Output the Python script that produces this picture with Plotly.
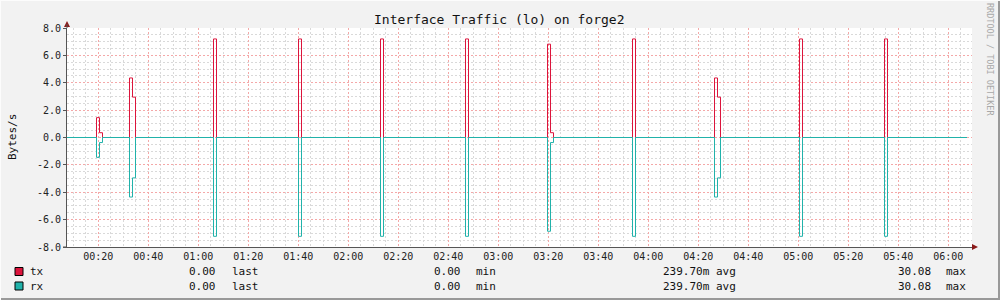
import plotly.graph_objects as go

# ---------------- data ----------------
title_text = "Interface Traffic (lo) on forge2"
y_label = "Bytes/s"
watermark = "RRDTOOL / TOBI OETIKER"

# time axis in minutes after 00:00
t_start = 7.48
t_end = 367.48
t_axis_end = 369.48
step_min = 1.2

x_tick_minutes = [20, 40, 60, 80, 100, 120, 140, 160, 180, 200, 220, 240, 260, 280, 300, 320, 340, 360]
x_tick_labels = ["00:20", "00:40", "01:00", "01:20", "01:40", "02:00", "02:20", "02:40", "03:00",
                 "03:20", "03:40", "04:00", "04:20", "04:40", "05:00", "05:20", "05:40", "06:00"]
y_tick_values = [-8, -6, -4, -2, 0, 2, 4, 6, 8]
y_tick_labels = ["-8.0", "-6.0", "-4.0", "-2.0", "0.0", "2.0", "4.0", "6.0", "8.0"]

spike_start_min = [19.28, 32.48, 66.08, 100.08, 132.88, 166.88, 199.68, 233.68, 266.48, 300.48, 334.48]
tx_spike_values = [[1.45, 0.35], [4.35, 2.95], [7.2], [7.2], [7.2], [7.2], [6.82, 0.35], [7.2], [4.35, 2.95], [7.2], [7.2]]
rx_spike_values = [[-1.45, -0.37], [-4.35, -2.95], [-7.22], [-7.22], [-7.22], [-7.22], [-6.85, -0.37], [-7.22], [-4.35, -2.95], [-7.22], [-7.22]]

series_names = ["tx", "rx"]
series_colors = ["#DC143C", "#20B2AA"]
stat_last = ["0.00", "0.00"]
stat_min = ["0.00", "0.00"]
stat_avg = ["239.70m", "239.70m"]
stat_max = ["30.08", "30.08"]

# ---------------- layout geometry ----------------
W, H = 1000, 300
L, R, T, B = 67, 972, 28, 247
FONT = "DejaVu Sans Mono"


def px(x):
    return (x - L) / (R - L)


def py(y):
    return (B - y) / (B - T)


def build_step(starts, values):
    xs, ys = [t_start], [0.0]
    for s, vals in zip(starts, values):
        for i, v in enumerate(vals):
            xs.append(s + i * step_min)
            ys.append(v)
        xs.append(s + len(vals) * step_min)
        ys.append(0.0)
    xs.append(t_end)
    ys.append(0.0)
    return xs, ys


fig = go.Figure()
for name, color, vals in zip(series_names, series_colors, [tx_spike_values, rx_spike_values]):
    xs, ys = build_step(spike_start_min, vals)
    fig.add_trace(go.Scatter(x=xs, y=ys, mode="lines", line=dict(color=color, width=1, shape="hv"),
                             name=name, showlegend=False, hoverinfo="skip"))

grid_dash = "2px,2px"
fig.update_layout(
    width=W, height=H,
    margin=dict(l=L, r=W - R, t=T, b=H - B, pad=0, autoexpand=False),
    paper_bgcolor="#F2F2F2",
    plot_bgcolor="#FFFFFF",
    font=dict(family=FONT, size=10, color="#222222"),
    xaxis=dict(
        range=[t_start, t_axis_end],
        tickmode="array", tickvals=x_tick_minutes, ticktext=x_tick_labels,
        showgrid=True, gridcolor="#F4A8A8", griddash=grid_dash, gridwidth=1,
        showline=True, linecolor="#555555", linewidth=1,
        ticks="", zeroline=False,
        tickfont=dict(family=FONT, size=10, color="#222222"),
        minor=dict(tickmode="linear", tick0=0, dtick=5, showgrid=True,
                   gridcolor="#D9D9D9", griddash=grid_dash, gridwidth=1, ticks=""),
        fixedrange=True,
    ),
    yaxis=dict(
        range=[-8, 8],
        tickmode="array", tickvals=y_tick_values, ticktext=y_tick_labels,
        showgrid=True, gridcolor="#F4A8A8", griddash=grid_dash, gridwidth=1,
        showline=True, linecolor="#555555", linewidth=1,
        ticks="outside", ticklen=3, tickcolor="#555555",
        zeroline=False,
        tickfont=dict(family=FONT, size=10, color="#222222"),
        minor=dict(tickmode="linear", tick0=0, dtick=0.5, showgrid=True,
                   gridcolor="#D9D9D9", griddash=grid_dash, gridwidth=1, ticks=""),
        fixedrange=True,
    ),
)

ann = []
# title
ann.append(dict(text=title_text, x=px(499), y=py(19), xref="paper", yref="paper",
                xanchor="center", yanchor="middle", showarrow=False,
                font=dict(family=FONT, size=13, color="#111111")))
# y label
ann.append(dict(text=y_label, x=px(12), y=py(137), xref="paper", yref="paper",
                xanchor="center", yanchor="middle", showarrow=False, textangle=-90,
                font=dict(family=FONT, size=11, color="#111111")))
# watermark
ann.append(dict(text=watermark, x=px(990), y=py(60), xref="paper", yref="paper",
                xanchor="center", yanchor="middle", showarrow=False, textangle=90,
                font=dict(family=FONT, size=8.5, color="#A8A8A8")))

shapes = []
row_y = [271.5, 286]
for i, name in enumerate(series_names):
    yc = row_y[i]
    shapes.append(dict(type="rect", xref="paper", yref="paper",
                       x0=px(15), x1=px(23), y0=py(yc - 4), y1=py(yc + 4),
                       fillcolor=series_colors[i], line=dict(color="#000000", width=1)))
    f = dict(family=FONT, size=11, color="#111111")
    ann.append(dict(text=name, x=px(28), y=py(yc), xref="paper", yref="paper",
                    xanchor="left", yanchor="middle", showarrow=False, font=f))
    ann.append(dict(text=stat_last[i], x=px(218), y=py(yc), xref="paper", yref="paper",
                    xanchor="right", yanchor="middle", showarrow=False, font=f))
    ann.append(dict(text="last", x=px(230), y=py(yc), xref="paper", yref="paper",
                    xanchor="left", yanchor="middle", showarrow=False, font=f))
    ann.append(dict(text=stat_min[i], x=px(463), y=py(yc), xref="paper", yref="paper",
                    xanchor="right", yanchor="middle", showarrow=False, font=f))
    ann.append(dict(text="min", x=px(474), y=py(yc), xref="paper", yref="paper",
                    xanchor="left", yanchor="middle", showarrow=False, font=f))
    ann.append(dict(text=stat_avg[i] + " avg", x=px(661), y=py(yc), xref="paper", yref="paper",
                    xanchor="left", yanchor="middle", showarrow=False, font=f))
    ann.append(dict(text=stat_max[i], x=px(933), y=py(yc), xref="paper", yref="paper",
                    xanchor="right", yanchor="middle", showarrow=False, font=f))
    ann.append(dict(text="max", x=px(944), y=py(yc), xref="paper", yref="paper",
                    xanchor="left", yanchor="middle", showarrow=False, font=f))

# axis arrows
arrow_col = "#8B1A1A"
shapes.append(dict(type="path", xref="paper", yref="paper",
                   path=f"M {px(64)} {py(27)} L {px(70)} {py(27)} L {px(67)} {py(21)} Z",
                   fillcolor=arrow_col, line=dict(color=arrow_col, width=0)))
shapes.append(dict(type="path", xref="paper", yref="paper",
                   path=f"M {px(972)} {py(244)} L {px(972)} {py(250)} L {px(978)} {py(247)} Z",
                   fillcolor=arrow_col, line=dict(color=arrow_col, width=0)))
# y axis extension to arrow
shapes.append(dict(type="line", xref="paper", yref="paper", x0=px(67), x1=px(67), y0=py(28), y1=py(24),
                   line=dict(color="#555555", width=1)))
# x axis extension left of y-axis
shapes.append(dict(type="line", xref="paper", yref="paper", x0=px(63), x1=px(67), y0=py(247), y1=py(247),
                   line=dict(color="#555555", width=1)))
# frame shading
shapes.append(dict(type="line", xref="paper", yref="paper", x0=px(0), x1=px(1000), y0=py(299), y1=py(299),
                   line=dict(color="#999999", width=2)))
shapes.append(dict(type="line", xref="paper", yref="paper", x0=px(999), x1=px(999), y0=py(0), y1=py(300),
                   line=dict(color="#999999", width=2)))
shapes.append(dict(type="line", xref="paper", yref="paper", x0=px(0), x1=px(1000), y0=py(0.5), y1=py(0.5),
                   line=dict(color="#FCFCFC", width=1)))
shapes.append(dict(type="line", xref="paper", yref="paper", x0=px(0.5), x1=px(0.5), y0=py(0), y1=py(300),
                   line=dict(color="#FCFCFC", width=1)))

fig.update_layout(annotations=ann, shapes=shapes)
fig.write_html("out.html", config={"displayModeBar": False})
